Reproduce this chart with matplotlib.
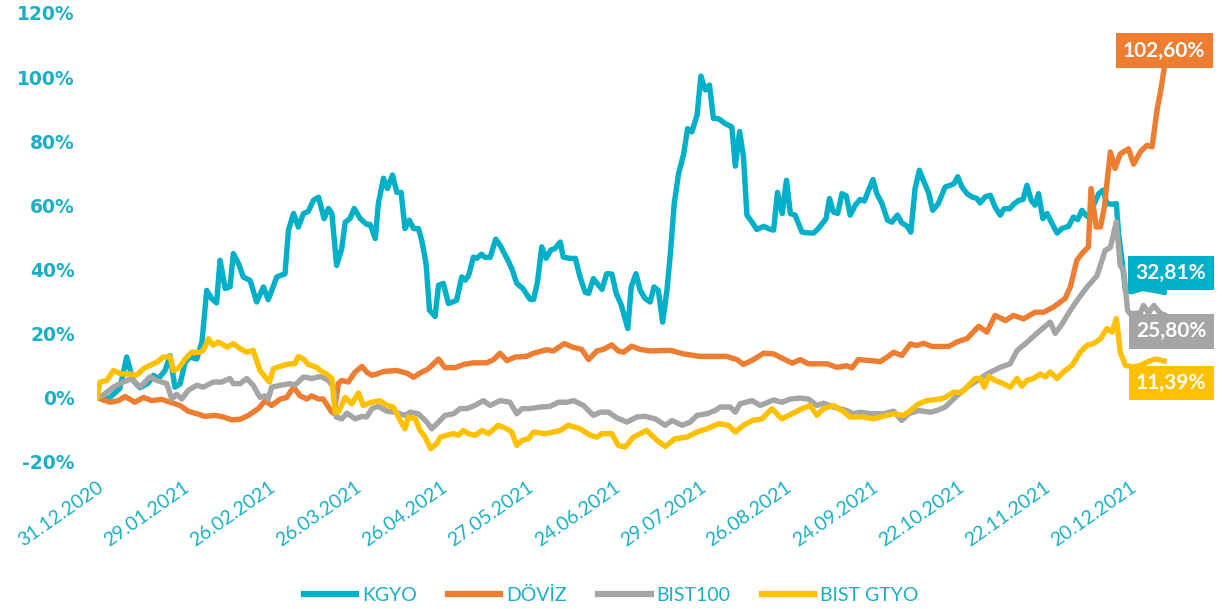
from __future__ import annotations

import matplotlib

matplotlib.use("Agg")

import matplotlib.pyplot as plt
from matplotlib.lines import Line2D

# x positions are trading days counted from 31.12.2020, values are cumulative returns in %
TICK_DAYS = [0, 20, 40, 60, 80, 100, 120, 140, 160, 180, 200, 220, 240]

TICK_LABELS = [
    "31.12.2020",
    "29.01.2021",
    "26.02.2021",
    "26.03.2021",
    "26.04.2021",
    "27.05.2021",
    "24.06.2021",
    "29.07.2021",
    "26.08.2021",
    "24.09.2021",
    "22.10.2021",
    "22.11.2021",
    "20.12.2021",
]

SERIES_NAMES = ["KGYO", "DÖVİZ", "BIST100", "BIST GTYO"]

END_LABELS = ["32,81%", "102,60%", "25,80%", "11,39%"]

KGYO_DAYS = [
    0, 1.5, 3, 5.3, 6.9, 8.4, 10, 11.9, 13.1, 14.3, 15.8, 17, 18.1, 19.3, 20.5, 21.6,
    23.2, 24.4, 25.5, 26.7, 27.8, 28.6, 29.8, 30.9, 31.7, 32.9, 34, 35.6, 37.1, 38.7,
    39.8, 41.8, 43.7, 44.5, 45.7, 46.8, 48, 49.1, 50.3, 51.5, 52.8, 53.8, 54.6, 55.7,
    56.9, 57.7, 58.8, 59.8, 61.2, 62.7, 63.5, 64.7, 65.4, 66.6, 67.5, 68.7, 69.7, 70.7,
    71.6, 72.6, 73.6, 74.7, 75.5, 76.5, 77.3, 78.6, 79.4, 80.5, 81.7, 83.6, 84.8, 85.6,
    86.4, 87.5, 88.3, 89.4, 90.2, 91.4, 92.7, 93.7, 95.3, 96.4, 97.6, 99, 100.7, 101.5,
    102.4, 103.4, 104.4, 105.5, 106.5, 107.7, 108.4, 110, 111.2, 112.3, 113.5, 114.3,
    115.4, 116.6, 117.4, 118.5, 119.7, 120.7, 121.9, 123.4, 124.2, 125.3, 126.3, 127.4,
    128.6, 129.5, 130.5, 131.5, 132.5, 133.3, 134.2, 135.2, 136.4, 137.3, 138.3, 139.5,
    140.4, 141.4, 142.4, 143.3, 144.5, 146, 147.6, 148.4, 149.4, 150.3, 151.1, 152.3,
    153.4, 155, 156.1, 157.3, 158.2, 159.3, 160.3, 161.2, 162.3, 163.9, 165, 166.6,
    167.7, 169.5, 170.3, 171.2, 172.2, 173.2, 174.2, 175.1, 176.3, 177.4, 178.4, 179.4,
    180.4, 181.3, 182.5, 183.8, 184.8, 186.1, 187.1, 188.3, 189.2, 190.2, 191.2, 192.1,
    193.3, 194.3, 195.6, 197.2, 198.4, 199.3, 200.1, 201.1, 202.3, 203.4, 204.6, 205.3,
    206.5, 207.7, 208.8, 210, 210.9, 212.2, 213.1, 214.3, 215.3, 216.2, 217.2, 218.1,
    218.9, 219.9, 220.9, 222, 223.2, 224.3, 225.9, 227, 228, 229, 229.8, 230.5, 231.7,
    232.9, 233.9, 234.8, 236, 237, 237.5, 238.3, 239.1, 240.5, 243, 245.5, 248.1,
]

KGYO_VALUES = [
    0, -0.8, 0, 2.8, 12.6, 5.3, 3, 4.5, 6.9, 5.9, 8.4, 13, 3.2, 4.2, 11, 12.6,
    12, 17.3, 33.4, 30.8, 29.5, 42.8, 34, 34.5, 44.9, 41.8, 37.6, 36.5, 29.8, 34.5,
    30.5, 37.6, 38.6, 52.2, 57.4, 53.2, 57.4, 58, 61.5, 62.5, 55.8, 59, 57.4, 41.2,
    46.5, 54.7, 55.8, 59, 55.8, 54, 54, 49.6, 60.5, 68.4, 65.2, 69.4, 64, 64,
    52.7, 55.3, 52.7, 52.7, 49, 41.8, 27.2, 25.3, 35, 35.6, 29.3, 30.3, 37.6, 36.6,
    38.1, 43.8, 43.4, 44.7, 43.7, 43.7, 49.4, 47.5, 43.4, 40.3, 35.6, 34, 30.6, 30.6,
    36, 47, 43.4, 46, 46.5, 48.5, 43.8, 43.4, 43.4, 37.6, 32.8, 32.5,
    37.1, 35, 33.7, 38.6, 38.5, 32.5, 28.8, 21.5, 34.5, 38.6, 33.4, 30.9,
    29.8, 34.5, 33.4, 23.5, 33.4, 44.9, 60.5, 69.8, 76, 83.9, 82.9, 88.1,
    100.3, 96, 97.5, 87.1, 87, 85.5, 84.4, 72.2, 83, 75, 56.9, 54.7,
    52.4, 53.4, 52.7, 52.2, 64, 57.4, 67.8, 57.4, 56.9, 51.6, 51.4, 51.3,
    52.7, 55.8, 62.1, 57.9, 57.4, 63.6, 62.9, 56.9, 60, 61.8, 61.3, 64.7,
    68, 63.6, 60.5, 55.3, 54.7, 56.9, 54.5, 53.5, 51.6, 65.2, 70.9, 67.8,
    64.1, 58.4, 60.5, 65.7, 66.2, 66.8, 68.9, 65.7, 63.6, 62.6, 62.1, 60.7,
    62.6, 63.1, 59.4, 56.9, 58.9, 58.9, 60.3, 61.5, 61.8, 66.2, 61.5, 60,
    63.6, 55.8, 57.4, 54.4, 51.3, 52.7, 53.4, 56.3, 55.5, 58.4, 57, 56.3, 60,
    63.6, 64.7, 60.5, 60.3, 60.5, 51.2, 42.8, 33.4, 33, 34, 33.5, 32.81,
]

DOVIZ_DAYS = [
    0, 3, 5, 6.5, 8.8, 10.8, 12.7, 15, 17, 19.3, 21.2, 23.2, 25.1, 27.4, 29.4, 31.3,
    33.3, 35.2, 37.5, 39.1, 40.6, 42.6, 44.1, 45.7, 47.2, 48.8, 49.9, 51.5, 52.6, 53.8,
    54.6, 55.1, 56.1, 56.9, 58.4, 60, 61.6, 62.7, 63.9, 65, 66.6, 69.7, 72, 73.6, 75.1,
    77, 79.4, 80.9, 83.3, 85.2, 87.5, 90.6, 92.2, 93.7, 95.3, 97.2, 99.9, 101.5, 104.6,
    106.1, 108.6, 110.8, 112.7, 114.3, 116.2, 117.7, 119.7, 121.2, 122.4, 124.3, 126.3,
    128.6, 133.3, 136.3, 140.2, 146.4, 148.8, 150.3, 152.6, 155, 157.3, 159.2, 161.6,
    163.5, 165.4, 169.7, 172, 174.3, 175.5, 177, 179.8, 182.1, 183.6, 185.2, 187.1,
    189.1, 190.6, 192.2, 194.1, 198, 199.9, 202.3, 205, 206.9, 208.8, 211.2, 213.1,
    215.4, 218.1, 220.1, 222.4, 225.1, 226.3, 227.8, 229, 230.5, 231.1, 232.3, 233.3,
    234.2, 235.6, 236.7, 237.9, 239.8, 241, 242.6, 244.1, 245.3, 246.5, 247.2, 248.1,
]

DOVIZ_VALUES = [
    0, -1.5, -1, 0.3, -1.5, 0, -1, -0.6, -1.5, -2.5, -4.3, -5.1, -5.9, -5.6, -6.1, -7,
    -6.8, -5.6, -3.5, -1, -2.5, -0.5, 0, 3.2, 0.5, -0.5, 0.5, -0.5, -0.5, -3,
    -4.6, -5, 4.3, 5.3, 4.8, 7.9, 9.7, 7.9, 6.9, 7.3, 8.1, 8.4, 7.6, 6.3, 7.6,
    8.9, 12, 9.3, 9.3, 10.3, 10.8, 10.8, 11.8, 13.8, 11.5, 12.6, 12.8, 13.8, 14.9,
    14.5, 16.8, 15.6, 15, 11.8, 14.5, 15, 16.4, 14.5, 14.1, 16, 15,
    14.5, 14.7, 13.6, 12.8, 12.8, 11.8, 10.3, 11.8, 13.8, 13.6, 12.3, 10.7,
    11.8, 10.5, 10.5, 9.4, 9.9, 9.2, 11.8, 11.5, 11.2, 12.5, 14.1, 13.1,
    16.7, 16.2, 16.9, 15.9, 15.9, 17.3, 18.4, 22.2, 20.4, 25.6, 24, 25.6,
    24.5, 26.6, 26.6, 28.2, 30.9, 34.5, 42.8, 44.9, 47, 65.2, 53.2, 53.2,
    59.4, 76.6, 71.5, 76, 77.6, 72.8, 76.7, 78.7, 78.2, 90.2, 94.9, 102.6,
]

BIST100_DAYS = [
    0, 1.5, 3.8, 6.1, 8.1, 10, 12.3, 13.9, 16.2, 17.4, 18.5, 19.7, 21.2, 23.2, 24.7,
    27, 29, 30.9, 31.7, 33.3, 34.8, 36.3, 37.9, 39.1, 39.8, 40.6, 42.6, 44.9, 46, 48,
    49.9, 51.5, 52.3, 53.8, 55, 55.6, 56.9, 58.1, 60, 61.6, 62.7, 63.9, 65.4, 67.4,
    69.3, 71.6, 72.8, 74.7, 76.7, 77.8, 79.4, 80.9, 82.9, 84.4, 86, 87.9, 89.8, 91.4,
    93.7, 96, 97.6, 98.8, 100.7, 103, 105.3, 107.3, 109.2, 110.8, 113.1, 115.4, 117,
    118.9, 120.9, 123.2, 125.5, 127.4, 129.8, 132.1, 133.7, 136, 137.9, 139.5, 141.8,
    143.7, 144.9, 147.2, 148.4, 149.5, 152.3, 154.2, 157.3, 159.2, 161.2, 163.5, 165.4,
    167.4, 168.9, 171.2, 174.3, 175.9, 177.4, 179.8, 182.9, 185.2, 187.1, 188.7, 191,
    193.7, 195.3, 197.2, 200, 202.3, 204.7, 207, 210, 212.3, 213.9, 216.2, 218.5,
    221.6, 222.8, 224.3, 226.3, 228.2, 230.2, 232.5, 234.4, 235.6, 237, 237.9, 238.7,
    239.6, 240.2, 242.6, 243.3, 244.5, 245.7, 247.2, 248.1,
]

BIST100_VALUES = [
    0, 0.8, 3.2, 4.8, 5.9, 3.2, 6.4, 5.3, 4.3, -0.5, 1, -0.5, 2.2, 3.8, 3.2,
    4.8, 4.8, 5.9, 4.3, 4.3, 5.9, 3.8, 0, 0.5, -0.5, 3.2, 3.8, 4.3, 3.8, 6.4,
    5.9, 6.4, 6.4, 5.3, 3.2, -6.1, -6.7, -4.9, -6.7, -5.9, -6.1, -3.5, -2.8, -4.3,
    -4.6, -5.6, -4.6, -5.1, -7.7, -9.8, -7.7, -5.6, -5.1, -3.5, -3.5, -2.5, -1, -2.5,
    -1, -1.5, -5.1, -3.5, -3.5, -3, -2.8, -1.5, -1.5, -1, -2.5, -5.6, -4.6,
    -4.6, -6.4, -7.7, -6.1, -5.9, -6.7, -8.7, -7.2, -8.7, -7.7, -5.6, -5.1,
    -4.1, -3, -3, -4.6, -2, -1, -2.5, -0.8, -1.5, -0.5, -0.2, -0.5,
    -2.5, -1.8, -3, -4.1, -5.1, -4.6, -5.1, -5.1, -4.3, -7.2, -5.1, -4.1,
    -4.6, -4.1, -3, 0.6, 3.2, 5.3, 7.4, 9.4, 10.5, 14.6, 17.2, 20,
    23.5, 20, 22.8, 27.2, 30.9, 34.5, 38, 45.9, 46.8, 54.8, 41.2, 39.6,
    27.2, 26.1, 26.4, 28.7, 26.4, 28.7, 26.3, 25.8,
]

GTYO_DAYS = [
    0, 0.7, 2.3, 3.8, 5.7, 7.7, 9.2, 10.8, 12.3, 13.9, 15.4, 17, 17.7, 18.9, 20.5, 22,
    24, 24.7, 25.9, 27, 28.2, 30.2, 31.7, 33.3, 34.8, 36.3, 37.9, 39.1, 40.1, 41, 43.3,
    44.9, 46, 46.8, 48, 49.1, 51.1, 51.9, 53.4, 54.6, 55.3, 56.1, 57.7, 59.2, 60.8, 61.9,
    63.9, 65.8, 67.4, 68.9, 70.5, 71.6, 72.4, 74, 75.1, 76.3, 77.6, 79, 79.8, 81.3, 82.9,
    84, 85.2, 86.3, 87.9, 89.5, 91, 93.3, 95.3, 96.4, 97.6, 98.8, 100.3, 101.5, 104.2,
    106.1, 107.7, 109.6, 111.2, 112.3, 114.7, 116.2, 117.4, 119.7, 121.2, 122.8, 124.7,
    127.8, 130.2, 132.1, 134.4, 137.1, 139.5, 141.8, 144.5, 146.8, 148.4, 150.3, 152.3,
    154.6, 156.9, 159.2, 161.6, 163.9, 165.8, 167.4, 168.9, 171.2, 173.2, 175.1, 178.2,
    180.5, 183.6, 185.2, 187.5, 189.1, 191, 192.9, 196, 197.2, 199.1, 201.1, 203, 204.2,
    205.3, 206.3, 207.3, 208.8, 210.4, 212.3, 213.9, 215, 216.2, 217.7, 219.3, 220.5,
    221.6, 223.2, 224.7, 226.7, 228.6, 230.2, 231.7, 233.3, 234.8, 236, 237, 237.9,
    239.1, 241, 242.6, 244.1, 246, 248.1,
]

GTYO_VALUES = [
    0, 4.8, 5.3, 8.4, 7.3, 7.3, 6.9, 9, 10, 11, 12.6, 12.7, 8.4, 9, 12, 14.1,
    14.1, 14.7, 18.3, 16.3, 17.3, 15.7, 16.8, 15.2, 14.1, 14.7, 8.4, 6.4, 4.8, 9, 10,
    10.5, 10.5, 12.8, 12, 10.3, 9.4, 8.4, 7.3, 5.9, -4.6, -4.6, 0, -2, 1.4, -2.5,
    -1.5, -1, -2.5, -3, -7.2, -9.8, -6.1, -6.7, -10.3, -12.4, -16, -14.4, -12.4, -11.8, -11.3,
    -11.8, -10.3, -11.3, -11.8, -10.3, -11.3, -8.7, -9.8, -10.8, -15, -13.4, -12.9, -10.8, -11.3,
    -10.8, -10.3, -8.7, -9.3, -9.8, -11.8, -12.4, -11.3, -11.3, -15, -15.5, -12.4,
    -10.3, -13.4, -15.3, -12.9, -12.4, -10.8, -9.8, -8.2, -8.7, -10.8, -8.7, -7.2,
    -6.7, -3.5, -6.7, -5.1, -3.5, -2.5, -5.6, -3.5, -2.5, -4.1, -6.1, -6.1,
    -6.7, -5.6, -5.1, -5.6, -4.1, -2, -1, -0.5, 0, 1.6, 1.6, 4.3, 5.9,
    5.9, 3.2, 6.6, 5.3, 4.5, 3.2, 5.9, 3.5, 5.3, 5.9, 7.3, 6.4,
    8, 5.9, 8, 10, 14.1, 16.3, 16.8, 18.3, 21.5, 20.4, 24.6, 14.1,
    10, 9.5, 10, 11, 12, 11.39,
]

COLORS = ["#00B0C8", "#ED7D31", "#A5A5A5", "#FFC000"]

TEXT_COLOR = "#1AAFC6"

# label box offsets (points) from each series' last point
LABEL_OFFSETS = [(5, 14), (0, 13), (5, -12), (5, -16)]


def _plot(output_path: str) -> None:

    fig = plt.figure(figsize=(12.22, 6.09), dpi=100)

    ax = fig.add_axes([0.0794, 0.2422, 0.8764, 0.7365])

    all_days = [KGYO_DAYS, DOVIZ_DAYS, BIST100_DAYS, GTYO_DAYS]

    all_values = [KGYO_VALUES, DOVIZ_VALUES, BIST100_VALUES, GTYO_VALUES]

    for name, days, values, color in zip(SERIES_NAMES, all_days, all_values, COLORS):
        ax.plot(days, values, color=color, linewidth=3.9, solid_joinstyle="round", label=name)

    for days, values, text, color, offset in zip(
        all_days, all_values, END_LABELS, COLORS, LABEL_OFFSETS
    ):
        ax.annotate(
            text,
            xy=(days[-1], values[-1]),
            xytext=offset,
            textcoords="offset points",
            ha="center",
            va="center",
            fontsize=15,
            fontweight="bold",
            family="Lato",
            color="white",
            bbox=dict(boxstyle="square,pad=0.35", facecolor=color, edgecolor="none"),
            annotation_clip=False,
            zorder=5,
        )

    ax.set_xlim(0, 249)

    ax.set_ylim(-20, 120)

    ax.set_yticks(range(-20, 121, 20))

    ax.set_yticklabels([f"{v}%" for v in range(-20, 121, 20)])

    ax.set_xticks(TICK_DAYS)

    ax.set_xticklabels(TICK_LABELS)

    for label in ax.get_yticklabels():
        label.set_fontsize(13.5)
        label.set_fontweight("bold")
        label.set_color(TEXT_COLOR)

    for label in ax.get_xticklabels():
        label.set_fontsize(14)
        label.set_family("Lato")
        label.set_fontweight("normal")
        label.set_color(TEXT_COLOR)
        label.set_rotation(35)
        label.set_ha("right")
        label.set_va("top")
        label.set_rotation_mode("anchor")

    ax.tick_params(axis="y", length=0, pad=16)

    ax.tick_params(axis="x", length=0, pad=12)

    for spine in ax.spines.values():
        spine.set_visible(False)

    handles = [Line2D([], [], color=c, linewidth=4.5) for c in COLORS]

    leg = fig.legend(
        handles,
        SERIES_NAMES,
        loc="center",
        bbox_to_anchor=(0.5, 0.023),
        ncol=4,
        frameon=False,
        prop={"family": "Lato", "size": 14},
        handlelength=2.7,
        handletextpad=0.3,
        columnspacing=1.6,
    )

    for text in leg.get_texts():
        text.set_color(TEXT_COLOR)

    fig.savefig(output_path, dpi=100)

    plt.close(fig)


def main():

    _plot("out.png")


if __name__ == "__main__":
    main()
